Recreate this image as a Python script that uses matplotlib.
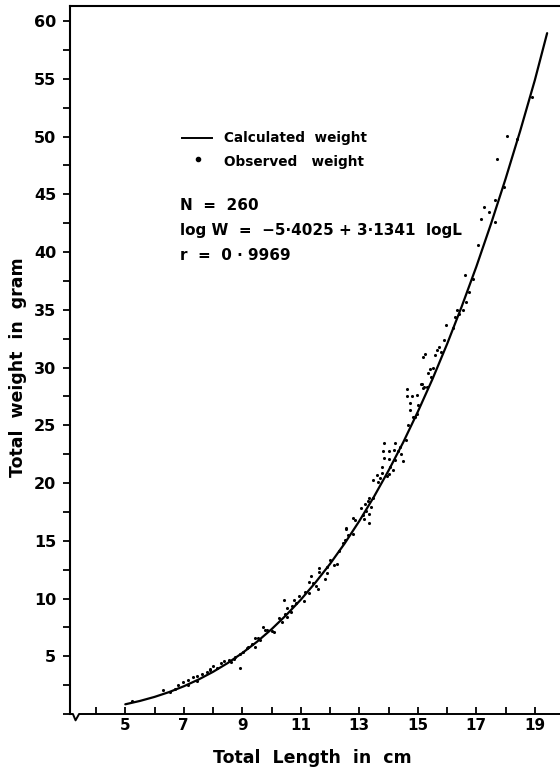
import matplotlib
matplotlib.use("Agg")
import matplotlib.pyplot as plt
from matplotlib.lines import Line2D
from matplotlib.ticker import FixedLocator, MultipleLocator

# ---------------- data ----------------
# calculated weight curve (log W = -5.4025 + 3.1341 log L)
curve_L = [5.0, 5.5, 6.0, 6.5, 7.0, 7.5, 8.0, 8.5, 9.0, 9.5, 10.0, 10.5, 11.0, 11.5,
           12.0, 12.5, 13.0, 13.5, 14.0, 14.5, 15.0, 15.5, 16.0, 16.5, 17.0, 17.5,
           18.0, 18.5, 19.0, 19.42]
curve_W = [0.84, 1.13, 1.48, 1.90, 2.40, 2.98, 3.65, 4.41, 5.28, 6.25, 7.34, 8.56, 9.90, 11.38,
           13.00, 14.77, 16.71, 18.81, 21.08, 23.52, 26.17, 28.99, 32.03, 35.28, 38.73, 42.43,
           46.34, 50.49, 54.88, 58.95]

# observed weights (total length cm, total weight g)
obs_L = [18.06, 17.72, 17.96, 17.63, 17.26, 17.42, 17.17, 17.65, 17.06,
         16.62, 16.74, 16.66, 16.35, 16.54, 16.27, 16.20, 15.97, 15.91, 15.74, 15.65, 15.57,
         15.23, 15.17, 15.51, 15.40, 15.34, 15.46, 15.12, 15.20,
         15.15, 15.17, 14.64, 14.97, 14.64, 14.81, 14.72, 15.00, 14.72, 14.97, 14.89, 14.66,
         14.58, 13.86, 14.23, 13.80, 14.00, 14.17, 14.31, 14.43, 13.84, 14.02, 14.22, 14.48,
         14.06, 13.77, 14.14, 13.77, 14.02, 13.59, 13.70, 13.48, 13.63, 13.34, 13.46, 13.29,
         13.21, 13.06, 13.23, 13.11, 13.34, 13.15, 12.77, 12.86, 13.32, 12.54,
         12.54, 12.60, 12.52, 12.43, 12.00, 12.23, 12.15, 11.88, 11.61, 11.63, 11.88, 11.34,
         11.83, 11.29, 11.40, 11.51, 11.59, 11.14, 11.29, 10.94, 10.77, 11.11, 10.41, 10.85,
         10.71, 10.54, 10.66, 10.46, 10.26, 10.54, 10.37, 9.71, 9.86,
         9.55, 9.32, 9.44, 9.15, 9.04, 8.92, 8.55, 8.39, 8.70, 8.27, 8.92, 8.00, 7.89, 7.78,
         7.61, 7.46, 7.30, 7.15, 6.98, 6.81, 6.70, 6.30, 6.52, 5.22,
         7.15, 7.44, 7.90, 8.76, 9.20, 9.43, 9.77, 10.10, 8.15, 8.60, 9.60, 10.00,
         12.30, 12.80, 13.40, 13.95, 14.40, 14.85, 15.30, 15.80, 16.40, 16.90, 18.40, 18.90]
obs_W = [50.07, 48.05, 45.65, 44.50, 43.90, 43.50, 42.90, 42.60, 40.60,
         38.00, 36.50, 35.70, 35.00, 35.00, 34.40, 33.40, 33.70, 32.40, 31.80, 31.50, 31.10,
         31.20, 30.90, 30.00, 29.90, 29.50, 29.20, 28.60, 28.30,
         28.60, 28.20, 28.10, 27.60, 27.50, 27.50, 26.90, 26.75, 26.30, 26.00, 25.70, 25.00,
         23.70, 23.50, 23.50, 22.80, 22.80, 22.90, 22.80, 22.50, 22.20, 22.05, 22.00, 21.90,
         21.40, 21.40, 21.10, 20.90, 20.80, 20.70, 20.40, 20.30, 20.10, 18.70, 18.70, 18.40,
         18.20, 17.80, 17.60, 17.20, 17.30, 16.90, 17.00, 16.80, 16.50, 16.10,
         16.00, 15.50, 15.10, 14.80, 13.30, 13.00, 12.90, 12.75, 12.60, 12.30, 12.20, 11.95,
         11.70, 11.45, 11.30, 11.10, 10.80, 10.60, 10.45, 10.20, 9.90, 9.80, 9.90, 9.60,
         9.35, 9.15, 8.86, 8.66, 8.30, 8.40, 8.00, 7.50, 7.30,
         6.55, 6.10, 5.83, 5.69, 5.40, 5.20, 4.68, 4.60, 4.80, 4.40, 3.96, 4.16, 3.87, 3.66,
         3.46, 3.29, 3.18, 2.94, 2.80, 2.50, 2.20, 2.08, 1.93, 1.15,
         2.50, 2.90, 3.80, 4.96, 5.83, 6.55, 7.27, 7.10, 4.00, 4.50, 6.40, 7.20,
         14.10, 15.60, 17.90, 20.60, 23.10, 25.70, 28.30, 31.30, 34.60, 37.70, 49.80, 53.40]

x_major = [5, 7, 9, 11, 13, 15, 17, 19]
x_minor = [4, 6, 8, 10, 12, 14, 16, 18]
y_major = [5, 10, 15, 20, 25, 30, 35, 40, 45, 50, 55, 60]

W_PX, H_PX = 560, 773


def fx(px):
    return px / W_PX


def fy(py):
    return 1 - py / H_PX


fig = plt.figure(figsize=(5.6, 7.73), dpi=100)
ax = fig.add_axes([fx(70), fy(714), fx(560) - fx(70), fy(6) - fy(714)])

ax.set_xlim(3.11, 19.86)
ax.set_ylim(0, 61.3)

ax.plot(curve_L, curve_W, color="black", lw=1.6, solid_capstyle="round")
ax.scatter(obs_L, obs_W, s=5, color="black", linewidths=0, zorder=3)

# spines
for s in ["right", "bottom"]:
    ax.spines[s].set_visible(False)
ax.spines["left"].set_linewidth(1.5)
ax.spines["top"].set_linewidth(1.5)

# x axis line with break mark
ax.plot([3.11, 3.21, 3.30, 3.42, 19.86], [0, 0, -0.55, 0, 0], color="black",
        lw=1.4, clip_on=False, zorder=4)

ax.xaxis.set_major_locator(FixedLocator(x_major))
ax.xaxis.set_minor_locator(FixedLocator(x_minor))
ax.set_xticklabels([str(v) for v in x_major])
ax.tick_params(axis="x", which="both", direction="in", length=5, width=1.3,
               labelsize=11, pad=3)

ax.yaxis.set_major_locator(FixedLocator(y_major))
ax.yaxis.set_minor_locator(MultipleLocator(2.5))
ax.set_yticklabels([str(v) for v in y_major])
ax.tick_params(axis="y", which="both", direction="out", length=5, width=1.3,
               labelsize=11.5, pad=5)
for lab in ax.get_xticklabels() + ax.get_yticklabels():
    lab.set_fontweight("bold")

fig.text(fx(18), fy(367), "Total  weight  in  gram", rotation=90, ha="center",
         va="center", fontsize=12.5, fontweight="bold")
fig.text(fx(312), fy(758), "Total  Length  in  cm", ha="center", va="center",
         fontsize=12.5, fontweight="bold")

# legend
fig.add_artist(Line2D([fx(182), fx(212)], [fy(138), fy(138)], color="black", lw=1.4))
fig.text(fx(224), fy(138), "Calculated  weight", ha="left", va="center",
         fontsize=9.8, fontweight="bold")
fig.add_artist(Line2D([fx(197.5)], [fy(158.5)], marker="o", markersize=3,
                      color="black", lw=0))
fig.text(fx(224), fy(162), "Observed   weight", ha="left", va="center",
         fontsize=9.8, fontweight="bold")

# annotations
fig.text(fx(180), fy(205), "N  =  260", ha="left", va="center", fontsize=11,
         fontweight="bold")
fig.text(fx(180), fy(230), "log W  =  \u22125\u00b74025 + 3\u00b71341  logL", ha="left",
         va="center", fontsize=11, fontweight="bold")
fig.text(fx(180), fy(255), "r  =  0 \u00b7 9969", ha="left", va="center", fontsize=11,
         fontweight="bold")

fig.savefig("out.png", dpi=100)
